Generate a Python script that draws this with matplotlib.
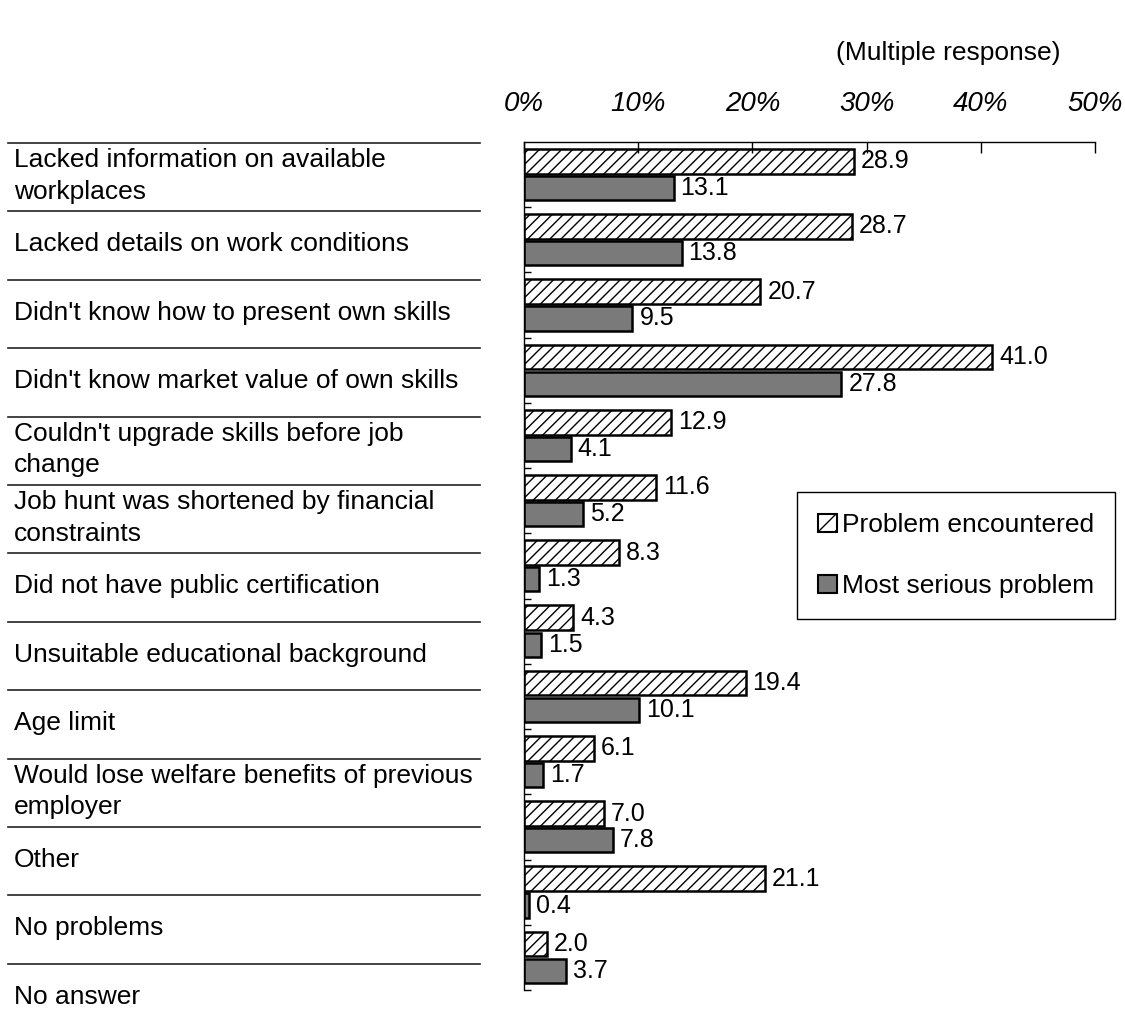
import matplotlib
matplotlib.use("Agg")
import matplotlib.pyplot as plt
import numpy as np
from matplotlib.lines import Line2D
from matplotlib.patches import Patch

# data
categories = [
    "Lacked information on available\nworkplaces",
    "Lacked details on work conditions",
    "Didn't know how to present own skills",
    "Didn't know market value of own skills",
    "Couldn't upgrade skills before job\nchange",
    "Job hunt was shortened by financial\nconstraints",
    "Did not have public certification",
    "Unsuitable educational background",
    "Age limit",
    "Would lose welfare benefits of previous\nemployer",
    "Other",
    "No problems",
    "No answer",
]
encountered = [28.9, 28.7, 20.7, 41.0, 12.9, 11.6, 8.3, 4.3, 19.4, 6.1, 7.0, 21.1, 2.0]
most_serious = [13.1, 13.8, 9.5, 27.8, 4.1, 5.2, 1.3, 1.5, 10.1, 1.7, 7.8, 0.4, 3.7]
series_names = ["Problem encountered", "Most serious problem"]
xticks = [0, 10, 20, 30, 40, 50]

W, H = 1125, 1010
plt.rcParams["font.family"] = ["Liberation Sans", "DejaVu Sans"]
plt.rcParams["hatch.linewidth"] = 1.0

fig = plt.figure(figsize=(W / 100, H / 100), dpi=100)
ax = fig.add_axes([524 / W, 1 - 990 / H, (1095 - 524) / W, (990 - 142) / H])

grey = "#7a7a7a"
y = np.arange(len(categories))
b1 = ax.barh(y - 0.205, encountered, height=0.38, color="white", edgecolor="black",
             hatch="///", linewidth=1.8)
b2 = ax.barh(y + 0.205, most_serious, height=0.37, color=grey, edgecolor="black",
             linewidth=1.8)

num_font = dict(family=["Liberation Sans Narrow", "Liberation Sans"], size=18)
ax.bar_label(b1, labels=[f"{v:.1f}" for v in encountered], padding=5, **num_font)
ax.bar_label(b2, labels=[f"{v:.1f}" for v in most_serious], padding=5, **num_font)

ax.set_xlim(0, 50)
ax.set_ylim(len(categories) - 0.5, -0.5)

ax.xaxis.tick_top()
ax.set_xticks(xticks)
ax.set_xticklabels([f"{t}%" for t in xticks], fontstyle="italic", fontsize=20)
ax.tick_params(axis="x", direction="in", length=8, width=1, pad=18)

ax.set_yticks([])
ax.set_yticks(np.arange(len(categories)) + 0.5, minor=True)
ax.tick_params(axis="y", which="minor", direction="in", length=5, width=1)
ax.set_yticklabels([], minor=True)

ax.spines["right"].set_visible(False)
ax.spines["bottom"].set_visible(False)
ax.spines["top"].set_linewidth(1)
ax.spines["left"].set_linewidth(1)

# category labels with separator lines on the left
row_h = 68.4
for k, label in enumerate(categories):
    top = 143 + row_h * k
    fig.add_artist(Line2D([8 / W, 480 / W], [1 - top / H, 1 - top / H],
                          color="#222222", linewidth=1.2))
    fig.text(14 / W, 1 - (top + 33) / H, label, fontsize=19, va="center",
             ha="left", linespacing=1.4)

fig.text(1060 / W, 1 - 53 / H, "(Multiple response)", fontsize=19,
         ha="right", va="center")

handles = [Patch(facecolor="white", edgecolor="black", hatch="//", linewidth=1.5),
           Patch(facecolor=grey, edgecolor="black", linewidth=1.5)]
leg = fig.legend(handles, series_names, loc="upper left",
                 bbox_to_anchor=(797 / W, 1 - 492 / H), fontsize=19,
                 frameon=True, fancybox=False, framealpha=1, edgecolor="black",
                 handlelength=0.7, handleheight=0.7, handletextpad=0.2,
                 labelspacing=1.4, borderpad=0.8, borderaxespad=0)
leg.get_frame().set_linewidth(1)

fig.savefig("out.png", dpi=100)
